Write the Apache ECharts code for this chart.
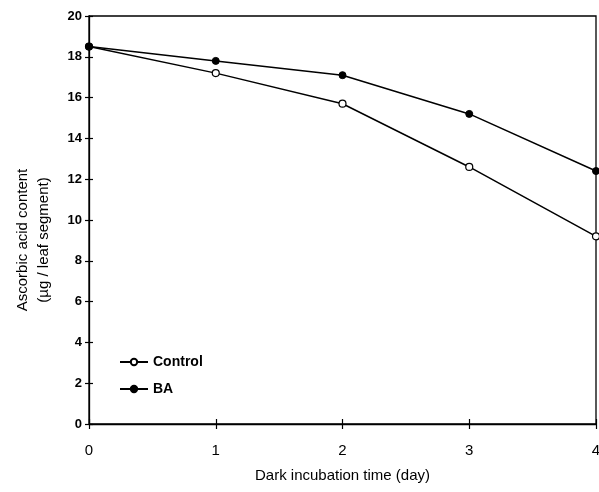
<!DOCTYPE html>
<html>
<head>
<meta charset="utf-8">
<script src="https://cdn.jsdelivr.net/npm/echarts@6/dist/echarts.min.js"></script>
<style>html,body{margin:0;padding:0;background:#fff;}#c{width:599px;height:492px;}</style>
</head>
<body>
<div id="c"></div>
<script>
var days = [0, 1, 2, 3, 4];
var controlValues = [18.5, 17.2, 15.7, 12.6, 9.2];
var baValues = [18.5, 17.8, 17.1, 15.2, 12.4];
var yTicks = [0, 2, 4, 6, 8, 10, 12, 14, 16, 18, 20];

function pairs(xs, ys) { return xs.map(function (x, i) { return [x, ys[i]]; }); }

var font = 'Liberation Sans, Arial, sans-serif';
var chart = echarts.init(document.getElementById('c'));
chart.setOption({
  backgroundColor: '#fff',
  animation: false,
  grid: { left: 89, right: 3, top: 16, bottom: 68, show: true, borderColor: '#000', borderWidth: 1.3,
    backgroundColor: 'transparent', containLabel: false, outerBoundsMode: 'none' },
  legend: {
    orient: 'vertical', left: 119, top: 355, padding: 0, itemWidth: 28, itemHeight: 8, itemGap: 13,
    textStyle: { fontFamily: font, fontWeight: 'bold', fontSize: 14, color: '#000' },
    data: ['Control', 'BA']
  },
  xAxis: [{
    type: 'value', min: 0, max: 4, interval: 1, position: 'bottom',
    name: 'Dark incubation time (day)', nameLocation: 'middle', nameGap: 44,
    nameTextStyle: { fontFamily: font, fontSize: 15, color: '#000' },
    axisLine: { lineStyle: { color: '#000', width: 1.3 } },
    axisTick: { show: true, inside: false, length: 5, lineStyle: { color: '#000', width: 1.2 } },
    axisLabel: { fontFamily: font, fontSize: 15, color: '#000', margin: 19 },
    splitLine: { show: false }
  }, {
    type: 'value', min: 0, max: 4, interval: 1, position: 'bottom',
    axisLine: { show: false },
    axisTick: { show: true, inside: true, length: 5, lineStyle: { color: '#000', width: 1.2 } },
    axisLabel: { show: false }, splitLine: { show: false }
  }],
  yAxis: [{
    type: 'value', min: 0, max: 20, interval: 2, position: 'left',
    name: 'Ascorbic acid content\n(\u00b5g / leaf segment)', nameLocation: 'middle', nameGap: 35, nameRotate: 90,
    nameTextStyle: { fontFamily: font, fontSize: 15, color: '#000', lineHeight: 21, padding: [0, 40, 0, 0] },
    axisLine: { lineStyle: { color: '#000', width: 1.3 } },
    axisTick: { show: true, inside: false, length: 4, lineStyle: { color: '#000', width: 1.2 } },
    axisLabel: { fontFamily: font, fontSize: 13, fontWeight: 'bold', color: '#000', margin: 7,
      formatter: function (v) { return yTicks.indexOf(v) >= 0 ? String(v) : ''; } },
    splitLine: { show: false }
  }, {
    type: 'value', min: 0, max: 20, interval: 2, position: 'left',
    axisLine: { show: false },
    axisTick: { show: true, inside: true, length: 4, lineStyle: { color: '#000', width: 1.2 } },
    axisLabel: { show: false }, splitLine: { show: false }
  }],
  series: [{
    name: 'Control', type: 'line', data: pairs(days, controlValues),
    symbol: 'circle', symbolSize: 7,
    itemStyle: { color: '#fff', borderColor: '#000', borderWidth: 1.2 },
    lineStyle: { color: '#000', width: 1.5 }
  }, {
    name: 'BA', type: 'line', data: pairs(days, baValues),
    symbol: 'circle', symbolSize: 7,
    itemStyle: { color: '#000', borderColor: '#000', borderWidth: 1 },
    lineStyle: { color: '#000', width: 1.5 }
  }]
});
</script>
</body>
</html>
